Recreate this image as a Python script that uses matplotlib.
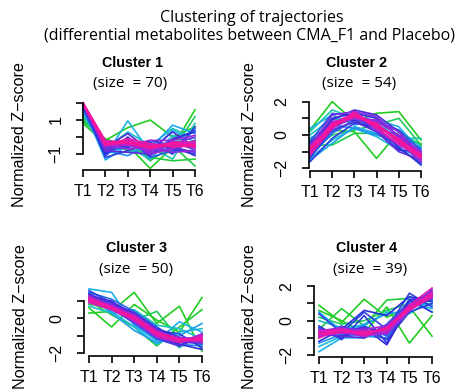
import numpy as np
import matplotlib.pyplot as plt
from matplotlib.colors import LinearSegmentedColormap

# time points
times = ["T1", "T2", "T3", "T4", "T5", "T6"]

# cluster profiles (normalized z-scores) and membership of each line
c1_lines = [
    [1.0, -0.2, 0.55, 1.0, 0.0, 0.6],
    [0.8, -0.4, -0.5, -1.85, -0.6, 1.6],
    [0.9, -0.1, -0.6, -1.2, -1.4, -1.3],
    [1.2, -0.5, -0.3, -1.4, -0.5, -1.7],
    [1.1, -0.3, -0.8, -0.9, -0.8, 1.2],
    [1.3, -0.9, -0.9, -0.6, -1.3, 0.8],
    [1.4, -0.7, 0.3, -0.5, 0.5, -0.1],
    [1.6, -0.9, -0.6, -1.3, 0.1, -0.5],
    [1.6, -1.1, 0.95, -0.9, 0.4, -0.3],
    [1.8, -1.35, -0.5, -0.7, 0.7, 0.2],
    [1.5, -0.8, -1.1, -0.4, -1.0, 0.5],
    [1.7, -0.6, -0.2, -1.0, -0.2, -0.8],
    [1.8, -0.9, -0.5, -0.8, -0.2, 0.4],
    [1.7, -1.1, -0.1, -1.2, -0.8, -0.2],
    [2.0, -1.2, -0.8, -0.4, -0.7, -1.0],
    [1.9, -0.7, -0.4, -0.3, -1.0, 0.6],
    [1.9, -1.0, 0.0, -1.1, -0.1, 0.3],
    [1.9, -0.4, -0.6, -0.2, -0.5, -1.1],
    [2.0, -0.6, 0.2, -0.8, 0.3, -0.6],
    [1.8, -0.8, -0.9, -1.0, -0.6, -0.9],
    [2.0, -0.8, -0.3, -0.9, -0.4, 0.0],
    [2.0, -0.5, -0.7, -0.6, -0.9, -0.8],
    [2.0, -0.3, -0.5, -0.2, -0.2, 0.1],
    [2.0, -0.6, -0.2, -1.0, -0.7, -0.2],
    [1.9, -0.5, -0.5, -0.8, -0.3, -0.7],
    [2.0, -0.4, -0.4, -0.4, -0.5, -0.5],
    [2.0, -0.3, -0.2, -0.5, -0.4, -0.4],
    [2.0, -0.4, -0.3, -0.7, -0.5, -0.6],
    [2.0, -0.2, -0.4, -0.6, -0.3, -0.3],
    [2.0, -0.5, -0.1, -0.4, -0.6, -0.5],
    [2.0, -0.35, -0.25, -0.55, -0.45, -0.45],
    [2.0, -0.45, -0.35, -0.65, -0.35, -0.55],
]
c1_memb = [0.30, 0.30, 0.32, 0.33, 0.35, 0.42, 0.45, 0.48, 0.50, 0.52,
           0.55, 0.58, 0.60, 0.62, 0.65, 0.66, 0.68, 0.70, 0.72, 0.74,
           0.78, 0.80, 0.82, 0.84, 0.86, 0.88, 0.90, 0.92, 0.95, 0.97,
           0.99, 0.99]

c2_lines = [
    [0.3, 2.0, 0.8, 1.3, 1.4, -0.3],
    [-0.3, 0.3, 0.2, -1.4, 0.2, -0.6],
    [-0.6, -0.6, 0.1, 0.1, -0.4, -0.5],
    [-1.0, 0.0, 0.3, 0.6, 1.0, -0.6],
    [0.2, 1.5, 1.0, 0.7, -0.2, -0.2],
    [0.0, 1.0, 0.7, 0.5, 0.3, -0.7],
    [-1.4, -0.3, 0.4, -0.1, -0.9, -1.2],
    [0.4, 1.2, 0.6, 0.9, 0.5, -1.0],
    [-1.5, -0.5, 0.5, 0.1, -0.6, -1.3],
    [-0.2, 0.6, 0.4, 0.0, -0.4, -1.7],
    [-1.2, 0.2, 0.8, 0.4, 0.0, -0.8],
    [-1.3, 0.1, 0.9, 0.6, -0.3, -1.6],
    [-0.4, 1.3, 1.1, 0.8, 0.3, -0.9],
    [-1.4, 0.4, 1.1, 0.3, -0.7, -1.8],
    [-1.6, -0.2, 0.7, 0.5, -0.8, -1.7],
    [-0.8, 1.0, 1.3, 1.0, -0.1, -1.4],
    [-0.5, 0.8, 0.9, 0.2, -0.9, -1.0],
    [-0.9, 0.9, 1.5, 1.2, 0.2, -1.2],
    [-1.1, 0.3, 0.8, 0.2, -1.0, -1.5],
    [-0.7, 1.2, 1.4, 1.1, -0.1, -1.1],
    [-1.1, 0.5, 1.0, 0.9, 0.2, -1.5],
    [-0.6, 0.7, 1.2, 0.8, 0.0, -1.0],
    [-1.2, 0.8, 1.0, 0.6, -0.4, -1.6],
    [-0.8, 0.4, 1.3, 0.3, -0.6, -1.3],
    [-1.0, 0.6, 1.2, 0.6, -0.3, -1.2],
    [-0.9, 0.6, 1.2, 0.5, -0.3, -1.2],
    [-1.0, 0.7, 1.3, 0.6, -0.2, -1.3],
    [-0.7, 0.5, 1.1, 0.7, -0.4, -1.1],
    [-1.2, 0.4, 1.4, 0.4, -0.5, -1.4],
    [-0.95, 0.55, 1.25, 0.55, -0.25, -1.25],
    [-0.85, 0.65, 1.15, 0.65, -0.35, -1.3],
]
c2_memb = [0.30, 0.30, 0.33, 0.35, 0.42, 0.45, 0.48, 0.50, 0.52, 0.55,
           0.58, 0.60, 0.62, 0.65, 0.66, 0.68, 0.70, 0.72, 0.74, 0.78,
           0.80, 0.82, 0.84, 0.86, 0.88, 0.90, 0.92, 0.95, 0.97, 0.99,
           0.99]

c3_lines = [
    [0.6, -0.5, 0.8, -0.1, -0.8, 1.2],
    [0.3, 0.4, 1.5, -0.3, 0.7, -1.9],
    [1.0, 0.2, -0.5, -1.6, -0.5, 0.5],
    [0.8, 0.6, -0.1, 0.4, -1.2, -1.5],
    [0.9, 0.5, 0.3, -0.5, -1.7, -0.9],
    [0.7, 0.3, 0.5, -0.4, -0.6, -1.2],
    [1.5, 0.4, -0.5, -1.5, -0.8, -0.6],
    [1.7, 1.5, -0.4, -1.3, -0.2, -0.8],
    [1.3, 0.3, -0.7, -1.4, -1.0, -0.3],
    [1.1, 0.9, 0.2, -1.2, -1.5, -1.6],
    [1.5, 1.1, 0.4, -0.5, -1.3, -1.5],
    [1.3, 0.6, -0.3, -1.2, -1.6, -0.9],
    [1.6, 0.9, 0.3, -0.8, -1.4, -1.2],
    [1.0, 0.8, 0.1, -0.7, -0.9, -1.7],
    [1.4, 0.7, -0.1, -1.0, -1.5, -1.8],
    [1.2, 1.0, 0.1, -0.6, -1.1, -1.4],
    [1.4, 0.9, 0.3, -0.6, -1.4, -1.4],
    [1.1, 0.5, -0.2, -1.1, -1.6, -1.0],
    [1.2, 0.8, 0.2, -0.7, -1.3, -1.0],
    [1.0, 0.6, -0.2, -1.0, -1.2, -1.3],
    [1.3, 0.7, 0.0, -0.8, -1.1, -1.2],
    [1.0, 0.6, 0.2, -0.7, -1.3, -1.4],
    [1.2, 0.5, -0.1, -1.1, -1.4, -0.9],
    [1.0, 0.7, 0.0, -0.9, -1.3, -1.2],
    [1.0, 0.6, 0.0, -0.9, -1.3, -1.1],
    [1.1, 0.7, 0.1, -0.8, -1.2, -1.2],
    [0.9, 0.5, -0.1, -1.0, -1.4, -1.0],
    [1.2, 0.6, 0.0, -0.9, -1.2, -1.3],
    [1.05, 0.6, 0.05, -0.85, -1.25, -1.15],
]
c3_memb = [0.30, 0.30, 0.32, 0.35, 0.42, 0.45, 0.48, 0.50, 0.53, 0.56,
           0.60, 0.62, 0.65, 0.66, 0.68, 0.70, 0.72, 0.74, 0.78, 0.80,
           0.82, 0.84, 0.86, 0.88, 0.90, 0.93, 0.95, 0.97, 0.99]

c4_lines = [
    [0.9, -0.1, 1.25, 0.2, 0.8, -0.9],
    [0.6, 0.0, -0.7, 0.8, -1.3, 0.3],
    [-0.5, 0.7, -0.3, 1.2, 1.3, 0.5],
    [0.2, -0.2, 0.0, 0.6, 1.0, 1.2],
    [0.0, -0.4, -0.3, 0.5, 0.4, 1.3],
    [-1.5, -0.9, -0.7, -0.8, 1.3, 0.9],
    [-1.8, -1.0, -1.0, -0.3, 1.1, 0.7],
    [0.5, -0.6, -0.2, 0.4, 0.6, 1.5],
    [-1.3, -0.8, -0.9, -1.0, 0.9, 1.0],
    [-0.6, -0.8, -0.3, -0.9, 1.0, 1.2],
    [-1.0, -0.3, -1.0, -0.2, 1.1, 1.6],
    [0.4, -0.7, 0.5, -0.5, 1.6, 0.8],
    [-0.3, -1.1, 0.3, -1.3, 1.2, 0.5],
    [-0.4, -1.0, -0.5, -1.1, 0.5, 1.0],
    [-1.2, -0.5, 0.6, 0.3, 1.4, 1.1],
    [-0.8, -0.9, -0.4, -1.4, 0.9, 1.3],
    [-0.9, -0.6, -0.4, -0.7, 1.2, 1.5],
    [-0.7, -0.9, -1.0, -0.3, 0.7, 1.8],
    [-0.5, -0.6, -0.8, -0.3, 0.9, 1.7],
    [-0.9, -0.4, -0.6, -0.8, 0.6, 1.4],
    [-0.6, -0.4, -0.8, -0.6, 0.8, 1.3],
    [-0.8, -0.6, -0.5, -0.3, 0.9, 1.6],
    [-0.9, -0.7, -0.9, -0.7, 0.6, 1.5],
    [-0.7, -0.5, -0.7, -0.5, 0.7, 1.7],
    [-0.7, -0.6, -0.7, -0.5, 0.8, 1.5],
    [-0.6, -0.5, -0.9, -0.4, 0.7, 1.6],
    [-0.8, -0.7, -0.6, -0.6, 0.9, 1.9],
    [-1.0, -0.5, -0.8, -0.4, 0.6, 1.4],
    [-0.75, -0.55, -0.75, -0.45, 0.75, 1.55],
]
c4_memb = [0.30, 0.30, 0.32, 0.35, 0.45, 0.48, 0.50, 0.52, 0.55, 0.60,
           0.62, 0.65, 0.66, 0.66, 0.68, 0.70, 0.72, 0.74, 0.78, 0.80,
           0.82, 0.84, 0.86, 0.88, 0.90, 0.93, 0.95, 0.97, 0.99]

cluster_sizes = [70, 54, 50, 39]

cmap = LinearSegmentedColormap.from_list(
    "memb", [(0.0, "#22cc22"), (0.15, "#1fc9a0"), (0.3, "#1ab0f0"),
             (0.45, "#2a5ae8"), (0.55, "#2b2bd8"), (0.7, "#8a2be2"),
             (0.85, "#c020d0"), (1.0, "#ff1493")])

W, H = 457, 391
fig = plt.figure(figsize=(W / 100, H / 100), dpi=100)

# panel geometry in pixels:
# left spine x, T1 x, T6 x, zero y, px per unit, top y, bottom y, yticks, shown labels
panels = [
    (83, 83, 195, 137, 17.0, 100, 170, [-1, 0, 1, 2], [-1, 1]),
    (309, 310, 421, 135, 16.7, 100, 171, [-2, -1, 0, 1, 2], [-2, 0, 2]),
    (84, 89, 202, 318.3, 17.3, 285, 356, [-2, -1, 0, 1], [-2, 0]),
    (314, 319, 432, 320.7, 17.2, 284, 357, [-2, -1, 0, 1, 2], [-2, 0, 2]),
]
data = [(c1_lines, c1_memb), (c2_lines, c2_memb), (c3_lines, c3_memb), (c4_lines, c4_memb)]
title_pos = [((132, 63), (130, 83)), ((357, 63), (359, 83)),
             ((137, 248), (136, 270)), ((367, 248), (370, 270))]
ylab_pos = [(20, 135), (249, 135), (21, 317), (249, 317)]

x = np.arange(1, 7)
for k, (lx, t1, t6, y0, ppu, ty, by, yt, ylabs) in enumerate(panels):
    ax = fig.add_axes([lx / W, 1 - by / H, (t6 - lx) / W, (by - ty) / H])
    ax.patch.set_alpha(0)
    xl = 1 - (t1 - lx) / (t6 - t1) * 5
    ax.set_xlim(xl, 6)
    ax.set_ylim((y0 - by) / ppu, (y0 - ty) / ppu)

    lines, memb = data[k]
    order = np.argsort(memb, kind="stable")
    for i in order:
        ax.plot(x, lines[i], color=cmap((memb[i] - 0.3) / 0.7), lw=1.2, clip_on=False)

    for s in ["top", "right"]:
        ax.spines[s].set_visible(False)
    ax.spines["left"].set_bounds(min(yt), max(yt))
    ax.spines["bottom"].set_bounds(1, 6)
    ax.spines["left"].set_linewidth(1.2)
    ax.spines["bottom"].set_linewidth(1.2)
    ax.set_yticks(yt)
    ax.set_yticklabels([("\u22122" if v == -2 else "\u22121" if v == -1 else str(v)) if v in ylabs else ""
                        for v in yt], rotation=90, va="center",
                       fontfamily="Liberation Sans", fontsize=11.5)
    ax.set_xticks(x)
    ax.set_xticklabels(times, fontfamily="Liberation Sans", fontsize=11.5)
    ax.tick_params(length=5, width=1.2, direction="out")
    ax.tick_params(axis="x", pad=5)
    ax.tick_params(axis="y", pad=9)

    (tx, tyy), (sx, sy) = title_pos[k]
    fig.text(tx / W, 1 - tyy / H, "Cluster %d" % (k + 1), ha="center", va="center",
             fontfamily="Liberation Sans", fontweight="bold", fontsize=10.3)
    fig.text(sx / W, 1 - sy / H, "(size  = %d)" % cluster_sizes[k], ha="center", va="center",
             fontfamily="Open Sans", fontsize=11)
    lxp, lyp = ylab_pos[k]
    fig.text(lxp / W, 1 - lyp / H, "Normalized Z\u2212score", rotation=90,
             ha="center", va="center", fontfamily="Liberation Sans", fontsize=11.6)

fig.text(252 / W, 1 - 18 / H, "Clustering of trajectories", ha="center", va="center",
         fontfamily="Open Sans", fontsize=11.5)
fig.text(249 / W, 1 - 35 / H, "(differential metabolites between CMA_F1 and Placebo)",
         ha="center", va="center", fontfamily="Open Sans", fontsize=11.5)

fig.savefig("out.png", dpi=100)
